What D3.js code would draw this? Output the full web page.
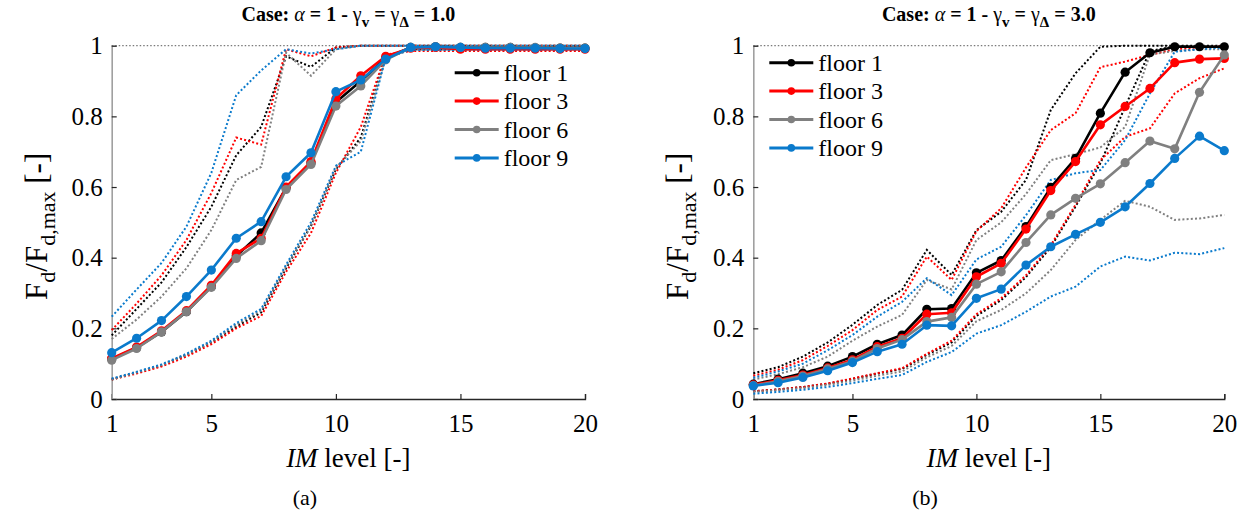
<!DOCTYPE html>
<html>
<head>
<meta charset="utf-8">
<script src="https://cdn.jsdelivr.net/npm/d3@7"></script>
<style>
  body { margin: 0; background: #fff; }
  svg { display: block; }
</style>
</head>
<body>
<div id="chart"></div>
<script>
// IM levels on the horizontal axis
const imLevels = [1, 2, 3, 4, 5, 6, 7, 8, 9, 10, 11, 12, 13, 14, 15, 16, 17, 18, 19, 20];
const floorNames = ["floor 1", "floor 3", "floor 6", "floor 9"];
const floorColors = ["#000000", "#ff0000", "#808080", "#0a7acc"];
const xTicks = [1, 5, 10, 15, 20];
const yTicks = [0, 0.2, 0.4, 0.6, 0.8, 1];
const yTickLabels = ["0", "0.2", "0.4", "0.6", "0.8", "1"];
const refLevel = 1;

// Case (a): gamma = 1.0 — median (Mid) and bounds (Hi / Lo) per floor
const a1Mid = [0.113, 0.145, 0.190, 0.247, 0.318, 0.405, 0.470, 0.598, 0.668, 0.840, 0.900, 0.965, 0.995, 0.997, 0.995, 0.995, 0.995, 0.994, 0.993, 0.993];
const a3Mid = [0.115, 0.147, 0.193, 0.250, 0.322, 0.412, 0.455, 0.600, 0.672, 0.850, 0.915, 0.970, 0.993, 0.995, 0.990, 0.990, 0.990, 0.990, 0.990, 0.990];
const a6Mid = [0.110, 0.143, 0.190, 0.247, 0.316, 0.398, 0.448, 0.593, 0.664, 0.829, 0.886, 0.960, 0.995, 0.997, 0.995, 0.995, 0.995, 0.995, 0.993, 0.993];
const a9Mid = [0.131, 0.172, 0.222, 0.290, 0.365, 0.455, 0.502, 0.629, 0.697, 0.870, 0.903, 0.962, 0.995, 0.997, 0.995, 0.993, 0.993, 0.993, 0.992, 0.992];

const a1Hi = [0.180, 0.255, 0.330, 0.430, 0.544, 0.690, 0.770, 0.970, 0.940, 0.995, 1, 1, 1, 1, 1, 1, 1, 1, 1, 1];
const a3Hi = [0.195, 0.270, 0.350, 0.450, 0.583, 0.740, 0.720, 0.990, 0.970, 0.995, 1, 1, 1, 1, 1, 1, 1, 1, 1, 1];
const a6Hi = [0.170, 0.225, 0.290, 0.370, 0.478, 0.620, 0.657, 0.980, 0.915, 0.990, 1, 1, 1, 1, 1, 1, 1, 1, 1, 1];
const a9Hi = [0.233, 0.310, 0.385, 0.488, 0.640, 0.860, 0.930, 0.990, 0.978, 0.990, 1, 1, 1, 1, 1, 1, 1, 1, 1, 1];

const a1Lo = [0.055, 0.075, 0.095, 0.125, 0.160, 0.205, 0.245, 0.370, 0.490, 0.650, 0.740, 0.970, 0.990, 0.990, 0.990, 0.990, 0.990, 0.990, 0.990, 0.990];
const a3Lo = [0.055, 0.072, 0.092, 0.120, 0.155, 0.200, 0.235, 0.360, 0.470, 0.640, 0.770, 0.975, 0.985, 0.985, 0.985, 0.985, 0.985, 0.985, 0.985, 0.985];
const a6Lo = [0.055, 0.075, 0.096, 0.125, 0.162, 0.210, 0.250, 0.375, 0.490, 0.655, 0.730, 0.965, 0.990, 0.990, 0.990, 0.990, 0.990, 0.990, 0.990, 0.990];
const a9Lo = [0.058, 0.077, 0.098, 0.128, 0.165, 0.215, 0.255, 0.380, 0.500, 0.660, 0.700, 0.965, 0.988, 0.988, 0.988, 0.988, 0.988, 0.988, 0.988, 0.988];

// Case (b): gamma = 3.0
const b1Mid = [0.042, 0.056, 0.073, 0.093, 0.120, 0.155, 0.181, 0.254, 0.256, 0.357, 0.392, 0.488, 0.599, 0.681, 0.809, 0.925, 0.980, 0.997, 0.997, 0.997];
const b3Mid = [0.040, 0.053, 0.068, 0.088, 0.111, 0.148, 0.172, 0.240, 0.244, 0.346, 0.384, 0.481, 0.590, 0.672, 0.776, 0.828, 0.879, 0.952, 0.962, 0.964];
const b6Mid = [0.038, 0.050, 0.065, 0.085, 0.107, 0.143, 0.168, 0.219, 0.231, 0.325, 0.360, 0.443, 0.521, 0.568, 0.609, 0.669, 0.730, 0.708, 0.868, 0.974];
const b9Mid = [0.037, 0.046, 0.061, 0.080, 0.103, 0.134, 0.155, 0.209, 0.207, 0.285, 0.311, 0.379, 0.431, 0.466, 0.500, 0.544, 0.610, 0.681, 0.744, 0.703];

const b1Hi = [0.073, 0.090, 0.120, 0.160, 0.210, 0.266, 0.309, 0.422, 0.351, 0.478, 0.530, 0.620, 0.818, 0.922, 0.997, 1, 1, 1, 1, 1];
const b3Hi = [0.066, 0.083, 0.110, 0.150, 0.195, 0.252, 0.290, 0.403, 0.337, 0.475, 0.540, 0.655, 0.761, 0.809, 0.939, 0.955, 0.974, 0.990, 0.995, 0.998];
const b6Hi = [0.055, 0.070, 0.090, 0.120, 0.165, 0.205, 0.238, 0.337, 0.310, 0.450, 0.500, 0.580, 0.676, 0.693, 0.712, 0.770, 0.975, 0.985, 0.990, 0.990];
const b9Hi = [0.060, 0.078, 0.100, 0.138, 0.181, 0.233, 0.275, 0.342, 0.294, 0.395, 0.431, 0.520, 0.620, 0.639, 0.648, 0.733, 0.865, 0.983, 0.990, 0.995];

const b1Lo = [0.022, 0.027, 0.034, 0.043, 0.057, 0.072, 0.085, 0.125, 0.160, 0.235, 0.280, 0.345, 0.430, 0.545, 0.667, 0.827, 0.985, 0.998, 0.998, 0.998];
const b3Lo = [0.022, 0.027, 0.034, 0.044, 0.058, 0.073, 0.087, 0.128, 0.165, 0.240, 0.285, 0.350, 0.435, 0.550, 0.676, 0.742, 0.766, 0.865, 0.908, 0.936];
const b6Lo = [0.020, 0.025, 0.031, 0.040, 0.052, 0.066, 0.078, 0.118, 0.150, 0.220, 0.252, 0.299, 0.365, 0.450, 0.507, 0.561, 0.544, 0.507, 0.511, 0.521];
const b9Lo = [0.015, 0.020, 0.026, 0.034, 0.045, 0.057, 0.068, 0.105, 0.133, 0.185, 0.209, 0.247, 0.290, 0.318, 0.375, 0.403, 0.392, 0.414, 0.410, 0.427];

const panels = [
  {
    gamma: "1.0", tag: "(a)",
    left: 111.7, right: 585,
    legendX: 343, legendY: 27,
    mid: [a1Mid, a3Mid, a6Mid, a9Mid],
    hi: [a1Hi, a3Hi, a6Hi, a9Hi],
    lo: [a1Lo, a3Lo, a6Lo, a9Lo]
  },
  {
    gamma: "3.0", tag: "(b)",
    left: 753.3, right: 1224.3,
    legendX: 16, legendY: 17,
    mid: [b1Mid, b3Mid, b6Mid, b9Mid],
    hi: [b1Hi, b3Hi, b6Hi, b9Hi],
    lo: [b1Lo, b3Lo, b6Lo, b9Lo]
  }
];

const W = 1246, H = 520;
const plotTop = 45.7, plotBottom = 399;
const axisDark = "#262626";
const serif = "'Liberation Serif', 'Times New Roman', Times, serif";

const svg = d3.select("#chart").append("svg")
  .attr("width", W).attr("height", H);

panels.forEach(p => {
  const x = d3.scaleLinear().domain([1, 20]).range([p.left, p.right]);
  const y = d3.scaleLinear().domain([0, 1]).range([plotBottom, plotTop]);
  const g = svg.append("g");
  const line = d3.line().x((d, i) => x(imLevels[i])).y(d => y(d));

  // reference line at the maximum
  g.append("line")
    .attr("x1", x(1)).attr("x2", x(20))
    .attr("y1", y(refLevel)).attr("y2", y(refLevel))
    .attr("stroke", "#7a7a7a").attr("stroke-width", 1.2)
    .attr("stroke-dasharray", "1.5,2");

  // x axis (ticks pointing inward)
  const xAxis = d3.axisBottom(x).tickValues(xTicks).tickSize(-5).tickPadding(15)
    .tickFormat(d3.format("d"));
  const xa = g.append("g").attr("transform", `translate(0,${plotBottom})`).call(xAxis);
  xa.select(".domain").attr("stroke", axisDark).attr("stroke-width", 1.3);
  xa.selectAll(".tick line").attr("stroke", axisDark).attr("stroke-width", 1.2);
  xa.selectAll(".tick text")
    .style("font-family", serif)
    .style("font-size", "25px").attr("fill", "#000")
    .attr("dy", "0.71em");

  // y axis
  const yAxis = d3.axisLeft(y).tickValues(yTicks).tickSize(-5).tickPadding(9)
    .tickFormat((d, i) => yTickLabels[i]);
  const ya = g.append("g").attr("transform", `translate(${p.left},0)`).call(yAxis);
  ya.select(".domain").attr("stroke", "#a0a0a0").attr("stroke-width", 1.6);
  ya.selectAll(".tick line").attr("stroke", axisDark).attr("stroke-width", 1.2);
  ya.selectAll(".tick text")
    .style("font-family", serif)
    .style("font-size", "25px").attr("fill", "#000");

  // bound curves (dotted)
  [0, 1, 2, 3].forEach(k => {
    [p.hi[k], p.lo[k]].forEach(arr => {
      g.append("path").datum(arr)
        .attr("d", line)
        .attr("fill", "none")
        .attr("stroke", floorColors[k])
        .attr("stroke-width", 2)
        .attr("stroke-dasharray", "2,2.2");
    });
  });

  // median curves with markers
  [0, 1, 2, 3].forEach(k => {
    g.append("path").datum(p.mid[k])
      .attr("d", line)
      .attr("fill", "none")
      .attr("stroke", floorColors[k])
      .attr("stroke-width", 2.6)
      .attr("stroke-linejoin", "round");
    g.selectAll(null).data(p.mid[k]).enter().append("circle")
      .attr("cx", (d, i) => x(imLevels[i]))
      .attr("cy", d => y(d))
      .attr("r", 4.6)
      .attr("fill", floorColors[k]);
  });

  // legend
  const lg = g.append("g").attr("transform", `translate(${p.left + p.legendX},${plotTop + p.legendY})`);
  floorNames.forEach((name, k) => {
    const row = lg.append("g").attr("transform", `translate(0,${k * 28.4})`);
    row.append("line").attr("x1", 0).attr("x2", 44).attr("y1", 0).attr("y2", 0)
      .attr("stroke", floorColors[k]).attr("stroke-width", 3);
    row.append("circle").attr("cx", 22).attr("cy", 0).attr("r", 3.8).attr("fill", floorColors[k]);
    row.append("text").attr("x", 49).attr("y", 8)
      .style("font-family", serif).style("font-size", "24px").text(name);
  });

  const cx = (p.left + p.right) / 2;

  // title
  const t = g.append("text").attr("x", cx).attr("y", 21)
    .attr("text-anchor", "middle")
    .style("font-family", serif).style("font-size", "20px").style("font-weight", "bold");
  t.append("tspan").text("Case: ");
  t.append("tspan").style("font-style", "italic").style("font-weight", "normal").text("α");
  t.append("tspan").text(" = 1 - ");
  t.append("tspan").style("font-weight", "normal").text("γ");
  t.append("tspan").attr("dy", 6).style("font-size", "15px").text("v");
  t.append("tspan").attr("dy", -6).text(" = ");
  t.append("tspan").style("font-weight", "normal").text("γ");
  t.append("tspan").attr("dy", 6).style("font-size", "15px").text("Δ");
  t.append("tspan").attr("dy", -6).text(" = " + p.gamma);

  // x axis title
  const xl = g.append("text").attr("x", cx).attr("y", 467)
    .attr("text-anchor", "middle")
    .style("font-family", serif).style("font-size", "27px");
  xl.append("tspan").style("font-style", "italic").text("IM");
  xl.append("tspan").text(" level [-]");

  // y axis title
  const yl = g.append("text")
    .attr("transform", `translate(${p.left - 65},${(plotTop + plotBottom) / 2 + 4}) rotate(-90)`)
    .attr("text-anchor", "middle")
    .style("font-family", serif).style("font-size", "31px");
  yl.append("tspan").text("F");
  yl.append("tspan").attr("dy", 8).style("font-size", "22px").text("d");
  yl.append("tspan").attr("dy", -8).text("/F");
  yl.append("tspan").attr("dy", 8).style("font-size", "22px").text("d,max");
  yl.append("tspan").attr("dy", -8).text(" [-]");

  // panel tag
  svg.append("text").attr("x", p.tag === "(a)" ? 305 : 925).attr("y", 505)
    .attr("text-anchor", "middle")
    .style("font-family", serif).style("font-size", "22px").text(p.tag);
});
</script>
</body>
</html>
